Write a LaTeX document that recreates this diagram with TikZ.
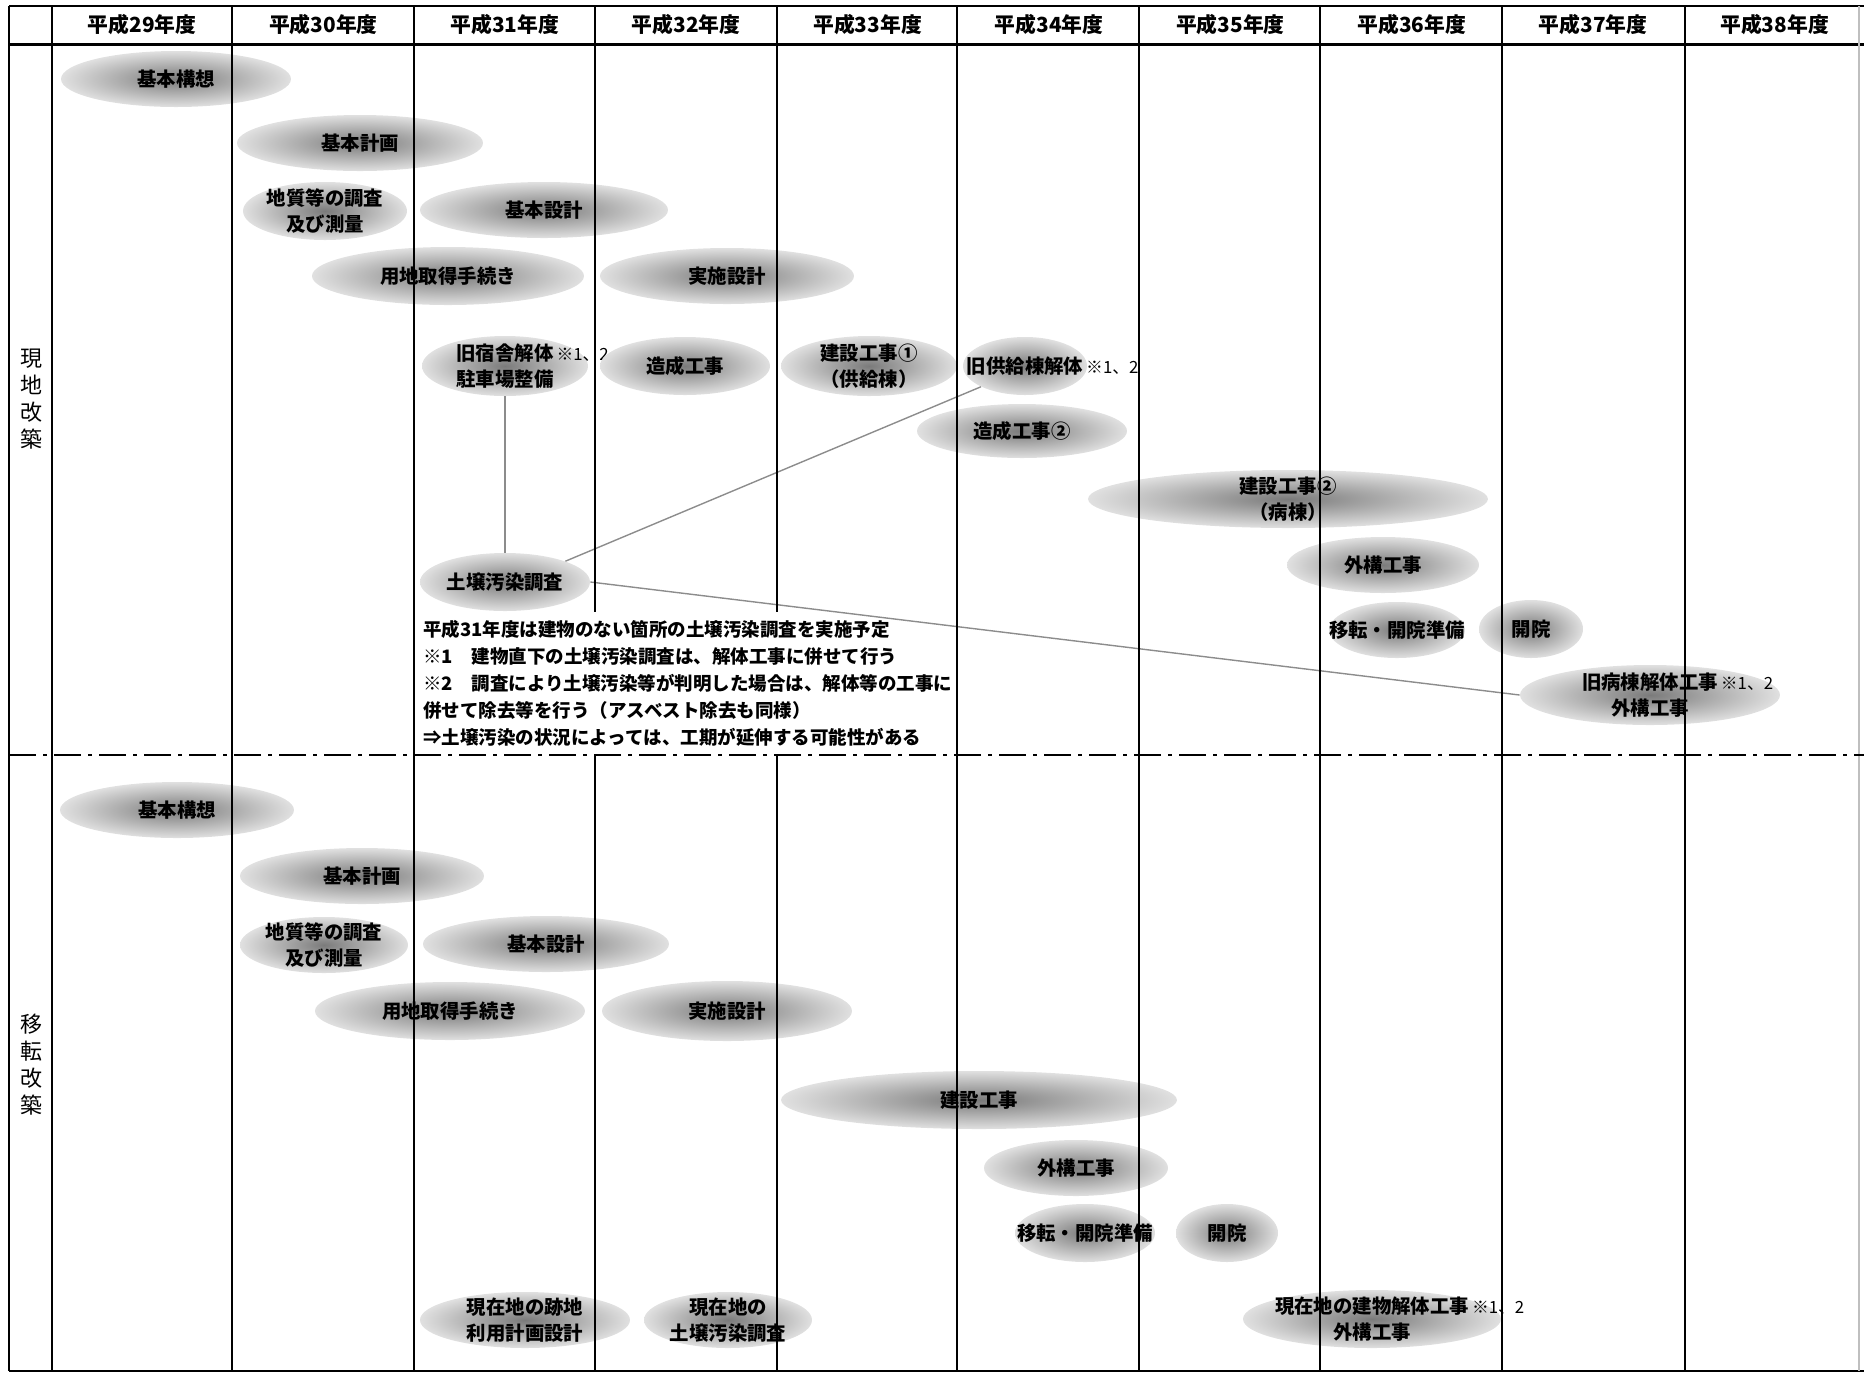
\documentclass[tikz,border=0pt]{standalone}
\usepackage{fontspec}
\setmainfont{Noto Sans CJK JP}
\usetikzlibrary{shapes.geometric}

\newcommand{\kome}{\rlap{\hspace{1.5pt}\mdseries\fontsize{8.4}{9}\selectfont ※1、2}}

\begin{document}
\begin{tikzpicture}[
    x=0.5pt, y=-0.5pt,
    yr/.style={font=\bfseries\fontsize{10.4}{12}\selectfont, inner sep=0pt},
    side/.style={font=\fontsize{11}{13.5}\selectfont, align=center, inner sep=0pt},
    oval/.style 2 args={ellipse, minimum width=#1pt, minimum height=#2pt, inner sep=0pt, shade, inner color=black!52, outer color=black!12},
    every label/.style={font=\bfseries\fontsize{9.7}{12.8}\selectfont, align=center, inner sep=0pt},
    note/.style={font=\bfseries\fontsize{9.25}{13.5}\selectfont, align=left, inner sep=0pt},
    link/.style={draw=black!45, line width=0.7pt},
    grid/.style={line width=1pt},
]
    \useasboundingbox (0,0) rectangle (1864,1373);

    % header
    \foreach \n [count=\i from 0] in {29,...,38}
        \node[yr] (yr\n) at (142+181.4*\i, 25) {平成{\n}年度};

    % side labels
    \node[side] (genchi) at (31,399) {現\\地\\改\\築};
    \node[side] (iten) at (31,1065) {移\\転\\改\\築};

    % 現地改築
    \node[oval={115}{28}, label={center:基本構想}] (g-kousou) at (176,79) {};
    \node[oval={123}{28}, label={center:基本計画}] (g-keikaku) at (360,143) {};
    \node[oval={82}{29}, label={center:{地質等の調査\\及び測量}}] (g-chousa) at (325,211) {};
    \node[oval={124}{28}, label={center:基本設計}] (g-kihon) at (544,210) {};
    \node[oval={136}{29}, label={center:用地取得手続き}] (g-youchi) at (448,276) {};
    \node[oval={127}{28}, label={center:実施設計}] (g-jisshi) at (727,276) {};
    \node[oval={83}{30}, label={center:{旧宿舎解体\kome\\駐車場整備}}] (g-shukusha) at (505,366) {};
    \node[oval={85}{29}, label={center:造成工事}] (g-zousei) at (685,366) {};
    \node[oval={88}{30}, label={center:{建設工事①\\（供給棟）}}] (g-kensetsu1) at (869,366) {};
    \node[oval={62}{29}, label={center:{旧供給棟解体\kome}}] (g-kyokyu) at (1025,366) {};
    \node[oval={105}{27}, label={center:造成工事②}] (g-zousei2) at (1022,431) {};
    \node[oval={200}{29}, label={center:{建設工事②\\（病棟）}}] (g-kensetsu2) at (1288,499) {};
    \node[oval={96}{28}, label={center:外構工事}] (g-gaikou) at (1383,565) {};
    \node[oval={68}{28}, label={center:移転・開院準備}] (g-junbi) at (1397,630) {};
    \node[oval={52}{29}, label={center:開院}] (g-kaiin) at (1531,629) {};
    \node[oval={130}{30}, label={center:{旧病棟解体工事\kome\\外構工事}}] (g-kyubyo) at (1650,695) {};
    \node[oval={85}{29}, label={center:土壌汚染調査}] (g-dojou) at (505,582) {};

    \node[note, anchor=north west] (g-note) at (423,620) {平成31年度は建物のない箇所の土壌汚染調査を実施予定\\※1　建物直下の土壌汚染調査は、解体工事に併せて行う\\※2　調査により土壌汚染等が判明した場合は、解体等の工事に\\併せて除去等を行う（アスベスト除去も同様）\\⇒土壌汚染の状況によっては、工期が延伸する可能性がある};

    \draw[link] (g-shukusha) -- (g-dojou);
    \draw[link] (g-dojou.north east) -- (g-kyokyu.south west);
    \draw[link] (g-dojou.east) -- (g-kyubyo.west);

    % 移転改築
    \node[oval={117}{28}, label={center:基本構想}] (i-kousou) at (177,810) {};
    \node[oval={122}{28}, label={center:基本計画}] (i-keikaku) at (362,876) {};
    \node[oval={84}{28}, label={center:{地質等の調査\\及び測量}}] (i-chousa) at (324,945) {};
    \node[oval={123}{28}, label={center:基本設計}] (i-kihon) at (546,944) {};
    \node[oval={135}{29}, label={center:用地取得手続き}] (i-youchi) at (450,1011) {};
    \node[oval={125}{30}, label={center:実施設計}] (i-jisshi) at (727,1011) {};
    \node[oval={198}{29}, label={center:建設工事}] (i-kensetsu) at (979,1100) {};
    \node[oval={92}{28}, label={center:外構工事}] (i-gaikou) at (1076,1168) {};
    \node[oval={70}{29}, label={center:移転・開院準備}] (i-junbi) at (1085,1233) {};
    \node[oval={51}{29}, label={center:開院}] (i-kaiin) at (1227,1233) {};
    \node[oval={105}{28}, label={center:{現在地の跡地\\利用計画設計}}] (i-atochi) at (525,1320) {};
    \node[oval={84}{28}, label={center:{現在地の\\土壌汚染調査}}] (i-dojou) at (728,1320) {};
    \node[oval={129}{29}, label={center:{現在地の建物解体工事\kome\\外構工事}}] (i-kaitai) at (1372,1319) {};

    % table lines
    \draw[grid] (9,6) -- (1864,6);
    \draw[line width=1.5pt] (9,44) -- (1864,44);
    \draw[grid] (9,1371) -- (1864,1371);
    \draw[grid] (9,6) -- (9,1371);
    \draw[grid] (52,6) -- (52,1371);
    \foreach \x in {232,414,957,1139,1320,1502,1685}
        \draw[grid] (\x,6) -- (\x,1371);
    \foreach \x in {595,777} {
        \draw[grid] (\x,6) -- (\x,612);
        \draw[grid] (\x,755) -- (\x,1371);
    }
    \draw[black!25, line width=0.6pt] (1859,6) -- (1859,1371);
    \draw[line width=1pt, dash pattern=on 13.5pt off 3.5pt on 2pt off 3.5pt] (9,755) -- (1864,755);
\end{tikzpicture}
\end{document}
